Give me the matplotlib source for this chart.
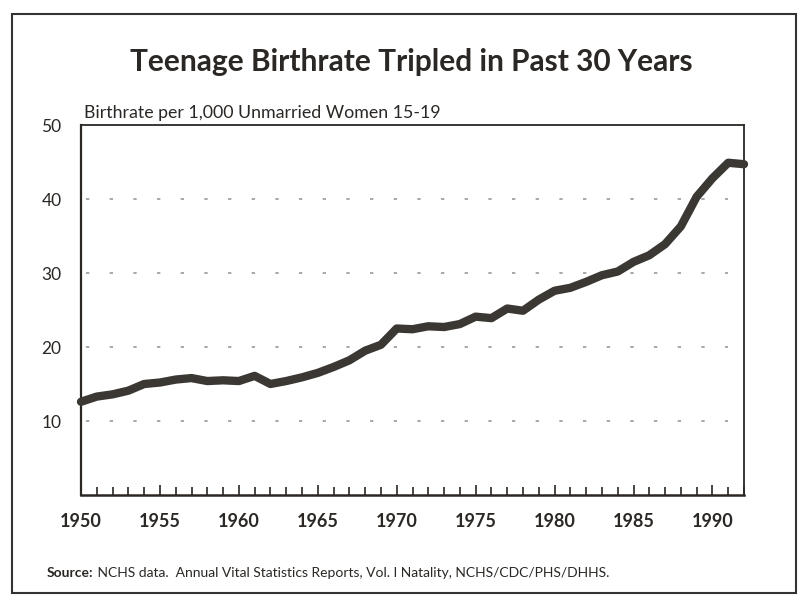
import matplotlib
matplotlib.use("Agg")
import matplotlib.pyplot as plt
from matplotlib.patches import Rectangle

years = list(range(1950, 1993))
birthrate = [12.6, 13.3, 13.6, 14.1, 15.0, 15.2, 15.6, 15.8, 15.4, 15.5,
             15.4, 16.1, 15.0, 15.4, 15.9, 16.5, 17.3, 18.2, 19.5, 20.3,
             22.5, 22.4, 22.8, 22.7, 23.1, 24.1, 23.9, 25.2, 24.9, 26.4,
             27.6, 28.0, 28.8, 29.7, 30.2, 31.5, 32.4, 33.9, 36.3, 40.3,
             42.8, 44.9, 44.7]
ytick_vals = [10, 20, 30, 40, 50]
xtick_major = [1950, 1955, 1960, 1965, 1970, 1975, 1980, 1985, 1990]
grid_vals = [10, 20, 30, 40]

title = "Teenage Birthrate Tripled in Past 30 Years"
ylabel = "Birthrate per 1,000 Unmarried Women 15-19"
source_bold = "Source:"
source_rest = " NCHS data.  Annual Vital Statistics Reports, Vol. I Natality, NCHS/CDC/PHS/DHHS."

plt.rcParams['font.family'] = ['Lato', 'DejaVu Sans']
ink = "#2a2724"

fig = plt.figure(figsize=(8.04, 6.0), dpi=100)
fig.patch.set_facecolor("white")
ax = fig.add_axes([81/804, 1-495/600, (744-81)/804, (495-125)/600])

ax.plot(years, birthrate, color="#3b3833", lw=6, solid_joinstyle="round",
        solid_capstyle="round", zorder=3, clip_on=False)

for g in grid_vals:
    ax.hlines(g, 1950.3, 1991, colors="#9a9a9a", lw=1.2,
              linestyles=(0, (2, 12.2)), zorder=1)

ax.set_xlim(1950, 1992)
ax.set_ylim(0, 50)
ax.set_yticks(ytick_vals)
ax.set_yticklabels([str(v) for v in ytick_vals], fontsize=12.5, color=ink)
ax.set_xticks(years, minor=True)
ax.set_xticks(xtick_major)
ax.set_xticklabels([str(v) for v in xtick_major], fontsize=13,
                   fontweight="bold", color=ink)
ax.tick_params(axis="x", which="both", direction="in", length=6, width=1.2,
               color=ink, pad=13)
ax.tick_params(axis="x", which="major", length=7)
ax.tick_params(axis="y", length=0, pad=14)
for s in ax.spines.values():
    s.set_color(ink)
    s.set_linewidth(1.3)
ax.spines["left"].set_linewidth(1.6)
ax.spines["bottom"].set_linewidth(1.8)

fig.text(84/804, 1-113/600, ylabel, fontsize=12.8, color=ink,
         ha="left", va="center")
fig.text(0.512, 1-62/600, title, fontsize=21.5, fontweight="bold",
         color=ink, ha="center", va="center")

t = fig.text(47/804, 1-573/600, source_bold, fontsize=10, fontweight="bold",
             color=ink, ha="left", va="center")
fig.canvas.draw()
bb = t.get_window_extent()
fig.text(bb.x1/804, 1-573/600, source_rest, fontsize=10, color=ink,
         ha="left", va="center")

fig.patches.append(Rectangle((12/804, 1-593/600), (796-12)/804, (593-14)/600,
                             transform=fig.transFigure, fill=False,
                             edgecolor="#333333", lw=1.5))

fig.savefig("out.png", dpi=100, facecolor="white")
